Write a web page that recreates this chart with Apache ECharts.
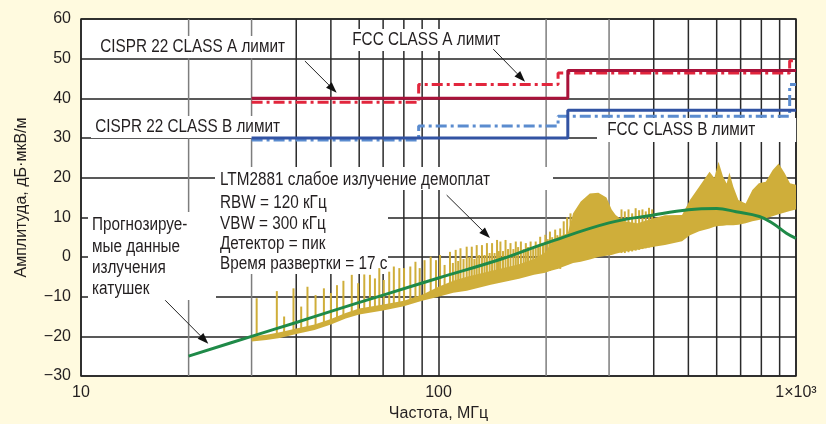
<!DOCTYPE html>
<html>
<head>
<meta charset="utf-8">
<script src="https://cdn.jsdelivr.net/npm/echarts@6/dist/echarts.min.js"></script>
<style>
  html, body { margin: 0; padding: 0; background: #fffadf; }
  #chart { width: 826px; height: 424px; }
</style>
</head>
<body>
<div id="chart"></div>
<script>
// limit lines, frequency in MHz, level in dBuV/m (stepped)
var cisprAFreq = [30, 230, 1000];
var cisprALevel = [40, 47, 47];
var fccAFreq = [30, 88, 216, 960, 1000];
var fccALevel = [39, 43.5, 46.4, 49.5, 49.5];
var cisprBFreq = [30, 230, 1000];
var cisprBLevel = [30, 37, 37];
var fccBFreq = [30, 88, 216, 960, 1000];
var fccBLevel = [29.5, 33, 35.5, 43.5, 43.5];

// predicted coil emission (green)
var predFreq = [20, 30, 40, 50, 70, 100, 150, 200, 300, 400, 500, 600, 680, 790, 860, 940, 1000];
var predLevel = [-25, -20, -16.5, -13.7, -9.6, -5.3, -0.5, 3.5, 8.6, 10.6, 11.9, 12.2, 11.4, 10.2, 8.5, 6, 4.7];

// measured emission band: noise floor and upper edge of the dense trace
var bandFreq = [30, 33, 36, 40, 45, 50, 55, 60, 70, 80, 90, 100, 110, 120, 140, 168, 185, 199, 205, 215, 230, 238,
  250, 265, 280, 295, 305, 313, 330, 360, 400, 430, 480, 505, 536, 573, 591, 607, 625, 640, 651, 668, 690, 723,
  755, 787, 823, 860, 894, 930, 962, 1000];
var bandLow = [-21.3, -20.9, -20.4, -19.4, -18.4, -17, -15.5, -14.5, -13.5, -12.4, -11, -10, -9, -8.5, -7, -5.5, -4.5, -4, -3.5, -3, -2, -1.5,
  -1.2, -0.6, 0, 0.3, 0.5, 0.8, 1.3, 1.8, 2.6, 3, 4, 5.5, 6.5, 7.2, 7.6, 7.8, 7.9, 8, 8, 8, 8.1, 8.5,
  9, 9.3, 9.8, 10.3, 10.8, 11.2, 11.6, 12];
var bandHigh = [-20, -19.6, -19, -18, -17, -15.6, -14.1, -13, -12, -11, -9.5, -7.5, -6, -5, -3.5, -1.8, -0.5, 1.2, 3, 5, 6, 11,
  14, 16, 16.2, 15, 12, 10.6, 9, 8.5, 9.8, 10.5, 10.6, 14.4, 17.7, 21.5, 19.9, 24, 20.3, 18.5, 21.3, 17.7, 14.4, 13.5,
  16.9, 18.6, 19, 21.9, 23.6, 21.1, 18.6, 18.2];

// harmonic spikes of the measured trace
var spikeFreq = [31, 35.3, 37, 39.3, 41.3, 43, 45.3, 47.8, 50, 52, 54.2, 57.2, 59.6, 62, 64.3, 66.4, 68.3, 70.3, 72.8, 75,
  77.7, 80.1, 83.4, 86.2, 88.6, 91.4, 95.1, 98.4, 101,
  104, 107.7, 109.7, 111.7, 113.5, 115.2, 117.5, 119.9, 122, 123.9, 126, 127.9, 130, 132.3, 134.5, 136.6, 139, 141.2,
  143.5, 145.8, 147.5, 149, 151.5, 154, 156.5, 159, 162, 164.5, 167, 170, 173, 175.5, 178, 181, 184, 187, 190, 192.5,
  196, 199, 202, 205, 208, 212, 215, 219, 224, 229, 234,
  325, 332, 340, 348, 356, 364, 372, 380, 388, 396];
var spikeBase = [-21, -20, -19.5, -19, -18.5, -18, -17.5, -17, -16.5, -16, -15, -14.5, -14, -13.5, -13, -13, -12.5, -12.5, -12, -12,
  -11.5, -11.5, -11, -11, -10.5, -10.5, -10, -10, -9.5,
  -9, -9, -8.5, -8.5, -8.5, -8.5, -8, -8, -8, -7.5, -7.5, -7.5, -7, -7, -7, -6.5, -6.5, -6.5,
  -6, -6, -6, -6, -5.5, -5.5, -5.5, -5.5, -5, -5, -5, -5, -4.5, -4.5, -4.5, -4.5, -4, -4, -4, -4,
  -3.5, -3.5, -3.5, -3.5, -3, -3, -3, -3, -2, -2, -1.5,
  1, 1, 1.2, 1.4, 1.6, 1.8, 2, 2.2, 2.4, 2.5];
var spikeTop = [-10.4, -8.6, -15, -7.9, -12.5, -7.5, -9.6, -7.9, -9.1, -7.1, -6, -4.5, -6.6, -4.4, -4.5, -5.4, -2.8, -5.8, -3.7, -2.4,
  -2.8, -2.8, -2.4, -1.2, -2.8, -0.8, 0.1, -0.8, 0.5,
  -2, 1.3, -1.5, 1.8, -1, 2.2, -0.5, 2.6, 0, 2.6, -0.5, 3, 0.5, 3, 0.5, 3.5, 1, 3.5,
  1, 4.3, 1.5, 3.9, 1.5, 4.3, 2, 3.5, 2, 3.9, 2.5, 3.9, 2, 3.5, 2.5, 3.9, 2.5, 3.9, 3, 5.1,
  3.5, 5.6, 4.5, 6.4, 5, 6.9, 5.5, 7.2, 9, 10, 11,
  12, 11.5, 12, 11, 12.3, 11.8, 12, 11.5, 12.4, 12];

// vertical grid lines between decades
var vGridFreq = [20, 30, 40, 50, 60, 70, 80, 90, 200, 300, 400, 500, 600, 700, 800, 900];
var vGridLight = [20, 30, 200, 300];

// callout arrows: [from MHz, from dB, to MHz, to dB]
var arrowData = [
  [42.3, 49.4, 51.9, 41.4],
  [142.3, 52.4, 174.6, 44.2],
  [105.4, 15.6, 139.3, 4.8],
  [17.2, -10.9, 22.7, -21.85]
];

var FONT = "'Liberation Sans', Arial, sans-serif";
var INK = '#231f20';
var YELLOW = '#cfae3a';
var NARROW = 0.85;

function pairs(xs, ys) {
  return xs.map(function (x, i) { return [x, ys[i]]; });
}

function label(text, x, y, pad) {
  var style = { text: text, font: '18px ' + FONT, fill: INK, verticalAlign: 'middle' };
  if (pad) { style.backgroundColor = '#fff'; style.padding = pad; }
  return { type: 'text', x: x, y: y, scaleX: NARROW, z: 5, style: style };
}

function whiteBox(x, y, w, h) {
  return { type: 'rect', z: 4, shape: { x: x, y: y, width: w, height: h }, style: { fill: '#fff' } };
}

var chart = echarts.init(document.getElementById('chart'));

var option = {
  backgroundColor: '#fffadf',
  animation: false,
  grid: {
    left: 81, right: 30, top: 19, bottom: 48,
    show: true, backgroundColor: '#fff', borderColor: '#2a2a2a', borderWidth: 1.5,
    containLabel: false, outerBoundsMode: 'none'
  },
  xAxis: {
    type: 'log', logBase: 10, min: 10, max: 1000,
    name: 'Частота, МГц', nameLocation: 'middle', nameGap: 29,
    nameTextStyle: { fontFamily: FONT, fontSize: 16, color: INK },
    axisLine: { show: false }, axisTick: { show: false },
    axisLabel: {
      fontFamily: FONT, fontSize: 16, color: INK, margin: 9,
      formatter: function (v) { return v >= 1000 ? '1×10³' : String(v); }
    },
    splitLine: { show: true, lineStyle: { color: '#222', width: 1.5 } }
  },
  yAxis: {
    type: 'value', min: -30, max: 60, interval: 10,
    name: 'Амплитуда, дБ·мкВ/м', nameLocation: 'middle', nameGap: 51,
    nameTextStyle: { fontFamily: FONT, fontSize: 16, color: INK },
    axisLine: { show: false }, axisTick: { show: false },
    axisLabel: {
      fontFamily: FONT, fontSize: 16, color: INK, margin: 10,
      formatter: function (v) { return v < 0 ? '\u2212' + Math.abs(v) : String(v); }
    },
    splitLine: { show: true, lineStyle: { color: '#222', width: 1.5 } }
  },
  graphic: [
    whiteBox(215, 167, 338, 23),
    whiteBox(215, 188, 173, 86),
    whiteBox(88, 212, 128, 88),
    label('CISPR 22 CLASS A лимит', 96, 47, [2, 5, 2, 5]),
    label('FCC CLASS A лимит', 348, 40, [2, 5, 2, 5]),
    label('CISPR 22 CLASS B лимит', 91, 127, [2, 5, 2, 5]),
    label('FCC CLASS B лимит', 597, 130, [3, 48, 3, 12]),
    label('LTM2881 слабое излучение демоплат', 220, 180),
    label('RBW = 120 кГц', 220, 203),
    label('VBW = 300 кГц', 220, 224),
    label('Детектор = пик', 220, 244),
    label('Время развертки = 17 с', 220, 264),
    label('Прогнозируе-', 92, 225),
    label('мые данные', 92, 247),
    label('излучения', 92, 268),
    label('катушек', 92, 289)
  ],
  series: [
    {
      // minor vertical grid lines
      type: 'custom', z: 1, silent: true,
      data: vGridFreq.map(function (f) { return [f]; }),
      encode: { x: 0 },
      renderItem: function (params, api) {
        var f = api.value(0);
        var p1 = api.coord([f, 60]);
        var p2 = api.coord([f, -30]);
        var light = vGridLight.indexOf(f) >= 0;
        return {
          type: 'line',
          shape: { x1: p1[0], y1: p1[1], x2: p2[0], y2: p2[1] },
          style: { stroke: light ? '#7d7d7d' : '#2a2a2a', lineWidth: 1.5 }
        };
      }
    },
    {
      // spikes
      type: 'custom', z: 6, silent: true,
      data: spikeFreq.map(function (f, i) { return [f, spikeBase[i], spikeTop[i]]; }),
      encode: { x: 0, y: [1, 2] },
      renderItem: function (params, api) {
        var p1 = api.coord([api.value(0), api.value(1)]);
        var p2 = api.coord([api.value(0), api.value(2)]);
        return {
          type: 'line',
          shape: { x1: p1[0], y1: p1[1], x2: p2[0], y2: p2[1] },
          style: { stroke: YELLOW, lineWidth: 2 }
        };
      }
    },
    {
      // measured band
      type: 'custom', z: 6, silent: true,
      data: bandFreq.map(function (f, i) { return [f, bandLow[i], bandHigh[i]]; }),
      encode: { x: 0, y: [1, 2] },
      renderItem: function (params, api) {
        if (params.dataIndexInside !== 0) return null;
        var upper = [], lower = [];
        for (var i = 0; i < params.dataInsideLength; i++) {
          upper.push(api.coord([api.value(0, i), api.value(2, i)]));
          lower.unshift(api.coord([api.value(0, i), api.value(1, i)]));
        }
        return { type: 'polygon', shape: { points: upper.concat(lower) }, style: { fill: YELLOW } };
      }
    },
    {
      name: 'FCC A', type: 'line', step: 'end', z: 7, symbol: 'none', silent: true,
      data: pairs(fccAFreq, fccALevel),
      lineStyle: { color: '#e2263d', width: 3, type: [11, 4, 3, 4] }
    },
    {
      name: 'CISPR A', type: 'line', step: 'end', z: 7, symbol: 'none', silent: true,
      data: pairs(cisprAFreq, cisprALevel),
      lineStyle: { color: '#a9123a', width: 3 }
    },
    {
      name: 'FCC B', type: 'line', step: 'end', z: 7, symbol: 'none', silent: true,
      data: pairs(fccBFreq, fccBLevel),
      lineStyle: { color: '#5b8ccf', width: 3, type: [11, 4, 3, 4] }
    },
    {
      name: 'CISPR B', type: 'line', step: 'end', z: 7, symbol: 'none', silent: true,
      data: pairs(cisprBFreq, cisprBLevel),
      lineStyle: { color: '#3253a3', width: 3 }
    },
    {
      name: 'Прогноз', type: 'line', smooth: 0.4, z: 8, symbol: 'none', silent: true,
      data: pairs(predFreq, predLevel),
      lineStyle: { color: '#1f8a48', width: 3 }
    },
    {
      // callout arrows
      type: 'custom', z: 9, silent: true,
      data: arrowData,
      encode: { x: [0, 2], y: [1, 3] },
      renderItem: function (params, api) {
        var a = api.coord([api.value(0), api.value(1)]);
        var b = api.coord([api.value(2), api.value(3)]);
        var dx = b[0] - a[0], dy = b[1] - a[1];
        var len = Math.sqrt(dx * dx + dy * dy);
        var ux = dx / len, uy = dy / len;
        var hl = 11, hw = 4;
        var bx = b[0] - ux * hl, by = b[1] - uy * hl;
        return {
          type: 'group',
          children: [
            { type: 'line', shape: { x1: a[0], y1: a[1], x2: bx, y2: by }, style: { stroke: '#222', lineWidth: 1 } },
            {
              type: 'polygon',
              shape: { points: [[b[0], b[1]], [bx - uy * hw, by + ux * hw], [bx + uy * hw, by - ux * hw]] },
              style: { fill: '#111' }
            }
          ]
        };
      }
    }
  ]
};

chart.setOption(option);
</script>
</body>
</html>
